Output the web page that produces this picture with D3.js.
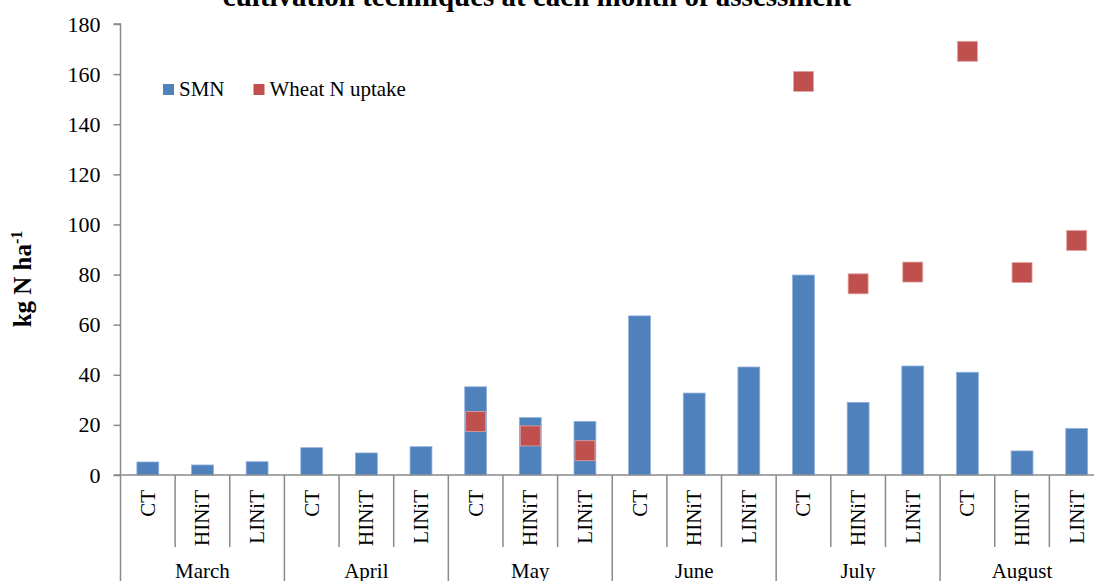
<!DOCTYPE html>
<html>
<head>
<meta charset="utf-8">
<script src="https://cdn.jsdelivr.net/npm/d3@7"></script>
<style>
  html, body { margin: 0; padding: 0; background: #fff; overflow: hidden; }
  svg { display: block; }
  svg text { font-family: "Liberation Serif", "Times New Roman", serif; }
</style>
</head>
<body>
<svg id="chart" width="1094" height="581"></svg>
<script>
// Months of assessment and the tillage techniques within each month
const months = ["March", "April", "May", "June", "July", "August"];
const techniques = ["CT", "HINiT", "LINiT"];

// Soil mineral N (kg N/ha), one value per month × technique, in order
const smn = [
  5.2, 4.0, 5.3,
  10.9, 8.8, 11.3,
  35.2, 22.9, 21.4,
  63.5, 32.7, 43.1,
  79.8, 29.0, 43.5,
  41.0, 9.6, 18.6
];

// Wheat N uptake (kg N/ha); null where not assessed
const uptake = [
  null, null, null,
  null, null, null,
  21.3, 15.6, 9.7,
  null, null, null,
  157.1, 76.3, 81.0,
  169.1, 80.8, 93.6
];

const yTicks = [0, 20, 40, 60, 80, 100, 120, 140, 160, 180];

const titleText = "cultivation techniques at each month of assessment";
const seriesNames = ["SMN", "Wheat N uptake"];
const colors = { smn: "#4F81BD", uptake: "#C0504D" };

const svg = d3.select("#chart");
const axisColor = "#8a8a8a";

const plotLeft = 120.5, plotRight = 1104, plotTop = 24, plotBottom = 475;

const rows = [];
months.forEach((m, i) => techniques.forEach((t, j) => {
  const k = i * techniques.length + j;
  rows.push({ key: m + "-" + t, month: m, tech: t, smn: smn[k], uptake: uptake[k] });
}));

const x = d3.scaleBand().domain(rows.map(d => d.key)).range([plotLeft, plotRight]).padding(0);
const y = d3.scaleLinear().domain([0, 180]).range([plotBottom, plotTop]);

const barW = x.bandwidth() * 0.4;
const sq = 20;

// Title (bold, partly above the top edge)
svg.append("text")
  .attr("x", 537).attr("y", 6)
  .attr("text-anchor", "middle")
  .attr("font-weight", "bold")
  .attr("font-size", 29)
  .attr("fill", "#000")
  .text(titleText);

// SMN bars
svg.append("g").selectAll("rect")
  .data(rows).join("rect")
  .attr("x", d => x(d.key) + (x.bandwidth() - barW) / 2)
  .attr("y", d => y(d.smn))
  .attr("width", barW)
  .attr("height", d => y(0) - y(d.smn))
  .attr("fill", colors.smn)
  .attr("stroke", "#8fb0dc")
  .attr("stroke-width", 0.8);

// Wheat N uptake markers
svg.append("g").selectAll("rect")
  .data(rows.filter(d => d.uptake != null)).join("rect")
  .attr("x", d => x(d.key) + x.bandwidth() / 2 - sq / 2)
  .attr("y", d => y(d.uptake) - sq / 2)
  .attr("width", sq)
  .attr("height", sq)
  .attr("fill", colors.uptake)
  .attr("stroke", "#e0a5a3")
  .attr("stroke-width", 0.8);

// Y axis
const yAxis = d3.axisLeft(y).tickValues(yTicks).tickSize(7).tickPadding(13);
const gy = svg.append("g").attr("transform", `translate(${plotLeft},0)`).call(yAxis)
  .attr("font-family", null).attr("font-size", null);
gy.select(".domain").attr("stroke", axisColor).attr("stroke-width", 1.5)
  .attr("d", `M-7,${plotTop}H0V${plotBottom}H-7`);
gy.selectAll(".tick line").attr("stroke", axisColor).attr("stroke-width", 1.5);
gy.selectAll(".tick text")
  .style("font-family", "'Liberation Serif', 'Times New Roman', serif")
  .style("font-size", "22px").attr("fill", "#000");

// X axis baseline
svg.append("line")
  .attr("x1", plotLeft).attr("x2", plotRight)
  .attr("y1", plotBottom).attr("y2", plotBottom)
  .attr("stroke", axisColor).attr("stroke-width", 1.5);

// Category separators: short inside a month, full height at month boundaries
const boundaries = d3.range(rows.length + 1);
svg.append("g").selectAll("line")
  .data(boundaries).join("line")
  .attr("x1", i => i < rows.length ? x(rows[i].key) : plotRight)
  .attr("x2", i => i < rows.length ? x(rows[i].key) : plotRight)
  .attr("y1", plotBottom)
  .attr("y2", i => i % techniques.length === 0 ? 590 : 547)
  .attr("stroke", axisColor).attr("stroke-width", 1.5);

// Technique labels (rotated)
svg.append("g").selectAll("text")
  .data(rows).join("text")
  .attr("transform", d => `translate(${x(d.key) + x.bandwidth() / 2 + 7},490) rotate(-90)`)
  .attr("text-anchor", "end")
  .attr("font-size", 21)
  .attr("fill", "#000")
  .text(d => d.tech);

// Month labels
const monthW = x.bandwidth() * techniques.length;
svg.append("g").selectAll("text")
  .data(months).join("text")
  .attr("x", (m, i) => plotLeft + monthW * i + monthW / 2)
  .attr("y", 578)
  .attr("text-anchor", "middle")
  .attr("font-size", 21)
  .attr("fill", "#000")
  .text(m => m);

// Y axis title
const yt = svg.append("text")
  .attr("transform", "translate(31,279) rotate(-90)")
  .attr("text-anchor", "middle")
  .attr("font-weight", "bold")
  .attr("font-size", 25)
  .attr("fill", "#000");
yt.append("tspan").text("kg N ha");
yt.append("tspan").attr("dy", -9).attr("font-size", 16).text("-1");

// Legend
const legend = svg.append("g");
const legendItems = [
  { name: seriesNames[0], color: colors.smn, x: 163 },
  { name: seriesNames[1], color: colors.uptake, x: 253.5 }
];
legendItems.forEach(it => {
  legend.append("rect")
    .attr("x", it.x).attr("y", 84)
    .attr("width", 11).attr("height", 11)
    .attr("fill", it.color);
  legend.append("text")
    .attr("x", it.x + 16).attr("y", 96)
    .attr("font-size", 21)
    .attr("fill", "#000")
    .text(it.name);
});
</script>
</body>
</html>
